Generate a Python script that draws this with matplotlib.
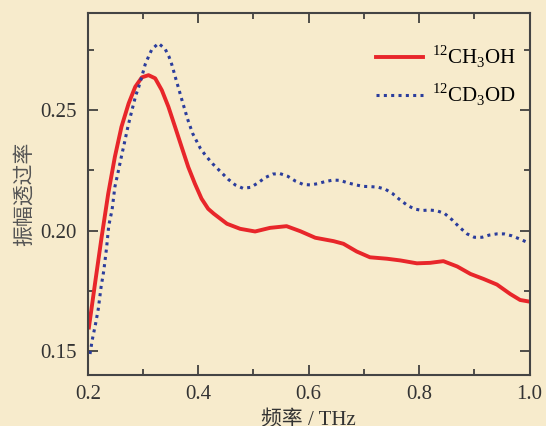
import matplotlib.pyplot as plt
from matplotlib.ticker import MultipleLocator

plt.rcParams['font.family'] = ['Liberation Serif', 'Noto Sans CJK SC']
plt.rcParams['mathtext.fontset'] = 'custom'
plt.rcParams['mathtext.rm'] = 'Liberation Serif'

bg = '#f7ebcc'

# 12CH3OH
x_oh = [0.202, 0.213, 0.225, 0.237, 0.249, 0.261, 0.274, 0.286, 0.298, 0.310,
        0.322, 0.334, 0.346, 0.358, 0.370, 0.382, 0.394, 0.406, 0.418, 0.428,
        0.452, 0.476, 0.503, 0.530, 0.560, 0.585, 0.612, 0.645, 0.663, 0.687,
        0.711, 0.742, 0.766, 0.796, 0.820, 0.844, 0.869, 0.893, 0.917, 0.941,
        0.965, 0.983, 0.998]
y_oh = [0.1599, 0.1780, 0.1973, 0.2154, 0.2306, 0.2431, 0.2528, 0.2597, 0.2636, 0.2645,
        0.2632, 0.2583, 0.2514, 0.2431, 0.2347, 0.2264, 0.2195, 0.2133, 0.2091, 0.2071,
        0.2029, 0.2008, 0.1997, 0.2012, 0.2019, 0.1998, 0.1971, 0.1957, 0.1946, 0.1914,
        0.1890, 0.1884, 0.1877, 0.1865, 0.1867, 0.1874, 0.1852, 0.1821, 0.1800, 0.1777,
        0.1738, 0.1713, 0.1707]

# 12CD3OD
x_od = [0.204, 0.208, 0.214, 0.219, 0.224, 0.229, 0.234, 0.238, 0.244, 0.249,
        0.255, 0.261, 0.267, 0.273, 0.280, 0.287, 0.292, 0.300, 0.304, 0.310,
        0.316, 0.328, 0.340, 0.347, 0.352, 0.356, 0.360, 0.364, 0.368, 0.372,
        0.376, 0.380, 0.385, 0.390, 0.397, 0.404, 0.414, 0.426, 0.440, 0.454,
        0.467, 0.481, 0.495, 0.508, 0.521, 0.535, 0.548, 0.562, 0.576, 0.590,
        0.603, 0.616, 0.630, 0.644, 0.657, 0.670, 0.684, 0.698, 0.711, 0.725,
        0.739, 0.752, 0.765, 0.779, 0.792, 0.806, 0.819, 0.832, 0.846, 0.860,
        0.873, 0.887, 0.900, 0.914, 0.927, 0.941, 0.954, 0.968, 0.981, 0.995]
y_od = [0.1489, 0.1547, 0.1613, 0.1676, 0.1766, 0.1835, 0.1929, 0.2022, 0.2087, 0.2181,
        0.2244, 0.2309, 0.2371, 0.2435, 0.2500, 0.2562, 0.2594, 0.2657, 0.2690, 0.2722,
        0.2752, 0.2777, 0.2754, 0.2722, 0.2690, 0.2658, 0.2625, 0.2594, 0.2562, 0.2530,
        0.2500, 0.2468, 0.2435, 0.2403, 0.2372, 0.2341, 0.2310, 0.2278, 0.2246, 0.2214,
        0.2190, 0.2176, 0.2180, 0.2198, 0.2220, 0.2235, 0.2237, 0.2226, 0.2206, 0.2192,
        0.2190, 0.2195, 0.2204, 0.2210, 0.2209, 0.2199, 0.2191, 0.2184, 0.2183, 0.2181,
        0.2172, 0.2154, 0.2129, 0.2105, 0.2090, 0.2084, 0.2086, 0.2083, 0.2072, 0.2045,
        0.2015, 0.1987, 0.1973, 0.1973, 0.1982, 0.1987, 0.1987, 0.1979, 0.1967, 0.1953]

fig = plt.figure(figsize=(5.46, 4.26), dpi=100, facecolor=bg)
ax = fig.add_axes([0.1608, 0.1197, 0.809, 0.8505], facecolor=bg)

ax.plot(x_oh, y_oh, color='#e8262a', linewidth=2.8,
        label=r'$^{12}\mathrm{CH}_3\mathrm{OH}$')
ax.plot(x_od, y_od, color='#2b3d9c', linewidth=2.2, linestyle=(0, (1, 1.4)),
        label=r'$^{12}\mathrm{CD}_3\mathrm{OD}$')

ax.set_xlim(0.2, 1.0)
ax.set_ylim(0.1402, 0.2904)
ax.set_xticks([0.2, 0.4, 0.6, 0.8, 1.0])
ax.set_xticklabels(['0.2', '0.4', '0.6', '0.8', '1.0'])
ax.set_yticks([0.15, 0.20, 0.25])
ax.set_yticklabels(['0.15', '0.20', '0.25'])
ax.xaxis.set_minor_locator(MultipleLocator(0.1))
ax.yaxis.set_minor_locator(MultipleLocator(0.025))
ax.tick_params(which='both', direction='in', top=True, right=True,
               colors='#333333', labelsize=15, width=1.2)
ax.tick_params(which='major', length=7)
ax.tick_params(which='minor', length=4)
ax.tick_params(axis='x', pad=7)
ax.tick_params(axis='y', pad=8)
for s in ax.spines.values():
    s.set_color('#444444')
    s.set_linewidth(1.5)

ax.set_xlabel('频率 / THz', fontsize=15, color='#333333', labelpad=5)
ax.set_ylabel('振幅透过率', fontsize=15, color='#555555', labelpad=4)

ax.legend(loc='upper right', frameon=False, fontsize=15, handlelength=2.25,
          bbox_to_anchor=(1.011, 0.967), labelspacing=0.6, handletextpad=0.4)

fig.savefig('out.png', dpi=100, facecolor=bg)
